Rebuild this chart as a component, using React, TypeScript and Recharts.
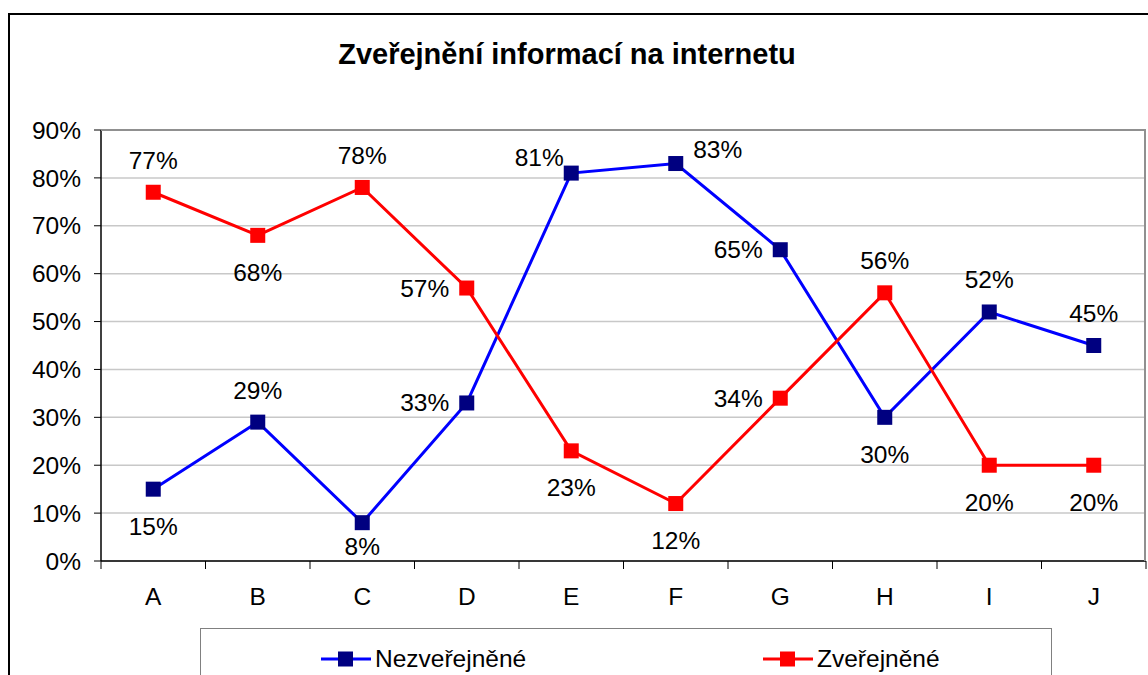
import React from "react";
import { LineChart, Line, XAxis, YAxis, CartesianGrid } from "recharts";

const categories = ["A", "B", "C", "D", "E", "F", "G", "H", "I", "J"];
const nezverejnene = [15, 29, 8, 33, 81, 83, 65, 30, 52, 45];
const zverejnene = [77, 68, 78, 57, 23, 12, 34, 56, 20, 20];
const yTicks = [0, 10, 20, 30, 40, 50, 60, 70, 80, 90];

// label placement per point (style only)
const bluePos = ["below", "above", "belowNear", "left", "upLeft", "right", "left", "below", "above", "above"];
const redPos = ["above", "below", "above", "left", "below", "below", "left", "above", "below", "below"];

const data = categories.map((c, i) => ({ cat: c, n: nezverejnene[i], z: zverejnene[i] }));

const FONT = "'Liberation Sans', Arial, sans-serif";
const FS = 24.5;

const makeLabel = (pos: string[]) => (props: any) => {
  const { x, y, value, index } = props;
  const p = pos[index];
  let dx = 0, dy = 0;
  if (p === "above") dy = -32;
  else if (p === "below") dy = 37;
  else if (p === "belowNear") dy = 24;
  else if (p === "left") dx = -42;
  else if (p === "upLeft") { dx = -32; dy = -16; }
  else if (p === "right") { dx = 42; dy = -14; }
  return (
    <text x={x + dx} y={y + dy} textAnchor="middle" dominantBaseline="central"
      fontFamily={FONT} fontSize={FS} fill="#000">{value + "%"}</text>
  );
};

const SquareDot = (color: string) => (props: any) => {
  const { cx, cy } = props;
  if (cx == null || cy == null) return null;
  return <rect x={cx - 7.5} y={cy - 7.5} width={15} height={15} fill={color} />;
};

const XTick = (props: any) => {
  const { x, y, payload, index } = props;
  const bw = 1045 / categories.length;
  return (
    <g>
      <line x1={x - bw / 2} y1={y - 8} x2={x - bw / 2} y2={y} stroke="#000" strokeWidth={1} />
      {index === categories.length - 1 && (
        <line x1={x + bw / 2} y1={y - 8} x2={x + bw / 2} y2={y} stroke="#000" strokeWidth={1} />
      )}
      <text x={x} y={y + 36} textAnchor="middle" fontFamily={FONT} fontSize={FS} fill="#000">
        {payload.value}
      </text>
    </g>
  );
};

const LegendItem = ({ line, fill, text }: any) => (
  <div style={{ display: "flex", alignItems: "center" }}>
    <svg width={50} height={20}>
      <line x1={0} y1={10} x2={50} y2={10} stroke={line} strokeWidth={3} />
      <rect x={17} y={2.5} width={15} height={15} fill={fill} />
    </svg>
    <span style={{ fontFamily: FONT, fontSize: FS, marginLeft: 4, color: "#000" }}>{text}</span>
  </div>
);

export default function App() {
  return (
    <div style={{ position: "absolute", left: 0, top: 0, width: 1148, height: 675, overflow: "hidden", background: "#fff" }}>
      <div style={{ position: "absolute", left: 8, top: 13, width: 1200, height: 800, border: "2px solid #000", boxSizing: "border-box" }} />
      <div style={{ position: "absolute", left: 0, top: 38, width: 1134, textAlign: "center", fontFamily: FONT, fontWeight: "bold", fontSize: 29, color: "#000" }}>
        Zveřejnění informací na internetu
      </div>
      <div style={{ position: "absolute", left: 0, top: 0 }}>
        <LineChart width={1148} height={675} data={data} margin={{ top: 130, right: 2, left: 0, bottom: 52 }}>
          <CartesianGrid vertical={false} stroke="#c8c8c8" strokeWidth={1.5} />
          <XAxis dataKey="cat" scale="band" axisLine={{ stroke: "#000", strokeWidth: 1.5 }} tickLine={false}
            tick={<XTick />} height={62} interval={0} />
          <YAxis domain={[0, 90]} ticks={yTicks} width={101} axisLine={{ stroke: "#000", strokeWidth: 1.5 }}
            tickLine={{ stroke: "#000" }} tickSize={7} tickMargin={13}
            tick={{ fontFamily: FONT, fontSize: FS, fill: "#000" }}
            tickFormatter={(v: number) => v + "%"} interval={0} />
          <Line dataKey="n" stroke="#0000ff" strokeWidth={3} isAnimationActive={false}
            dot={SquareDot("#000080")} activeDot={false} label={makeLabel(bluePos)} />
          <Line dataKey="z" stroke="#ff0000" strokeWidth={3} isAnimationActive={false}
            dot={SquareDot("#ff0000")} activeDot={false} label={makeLabel(redPos)} />
        </LineChart>
      </div>
      <div style={{ position: "absolute", left: 101, top: 129, width: 1045, height: 432, borderTop: "2px solid #909090", borderRight: "2px solid #909090", boxSizing: "border-box", pointerEvents: "none" }} />
      <div style={{ position: "absolute", left: 200, top: 628, width: 852, height: 80, border: "1.5px solid #808080", boxSizing: "border-box", background: "#fff" }}>
        <div style={{ position: "absolute", left: 120, top: 16 }}>
          <LegendItem line="#0000ff" fill="#000080" text="Nezveřejněné" />
        </div>
        <div style={{ position: "absolute", left: 562, top: 16 }}>
          <LegendItem line="#ff0000" fill="#ff0000" text="Zveřejněné" />
        </div>
      </div>
    </div>
  );
}
